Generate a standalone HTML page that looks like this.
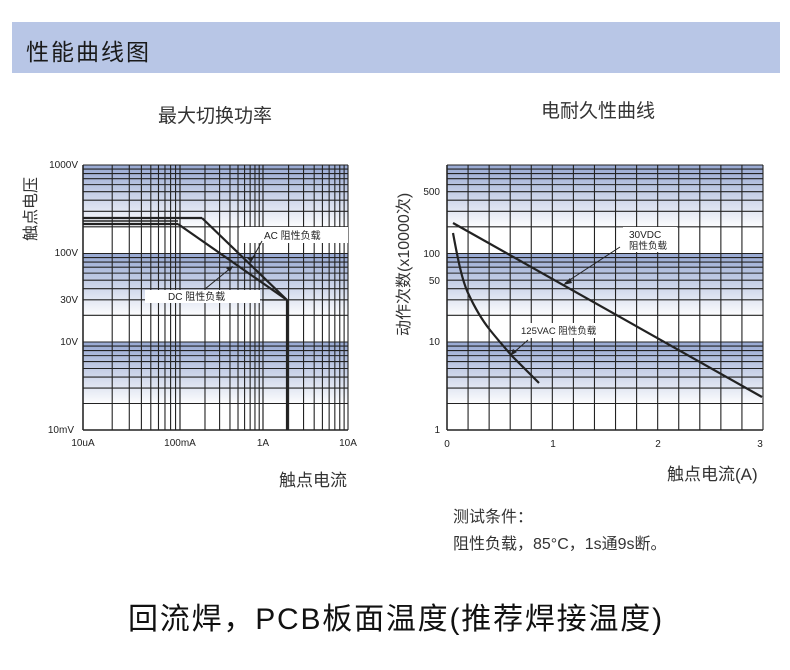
<!DOCTYPE html>
<html><head><meta charset="utf-8">
<style>
html,body{margin:0;padding:0;background:#fff;width:790px;height:670px;overflow:hidden}
body{position:relative;font-family:"Liberation Sans","Noto Sans CJK SC",sans-serif;color:#222}
.t{position:absolute;white-space:nowrap}
</style></head><body>
<div style="position:absolute;left:12px;top:22px;width:768px;height:51px;background:#b8c6e6"></div>
<div class="t" style="left:26px;top:33px;font-size:23px;letter-spacing:2px;color:#1a1a1a">性能曲线图</div>
<div class="t" style="left:158px;top:101px;font-size:19px;color:#333">最大切换功率</div>
<div class="t" style="left:541px;top:96px;font-size:19px;color:#333">电耐久性曲线</div>
<div class="t" style="left:17px;top:241px;font-size:16px;transform:rotate(-90deg);transform-origin:0 0;color:#333">触点电压</div>
<div class="t" style="left:390px;top:336px;font-size:16px;transform:rotate(-90deg);transform-origin:0 0;color:#333">动作次数(x10000次)</div>
<div class="t" style="left:279px;top:466px;font-size:17px;color:#333">触点电流</div>
<div class="t" style="left:667px;top:460px;font-size:17px;color:#333">触点电流(A)</div>
<div class="t" style="left:453px;top:503px;font-size:16px;color:#333">测试条件：</div>
<div class="t" style="left:453px;top:530px;font-size:16px;color:#333">阻性负载，85°C，1s通9s断。</div>
<div class="t" style="left:128px;top:594px;font-size:30px;letter-spacing:1.8px;color:#111">回流焊，PCB板面温度(推荐焊接温度)</div>
<svg id="s" width="790" height="670" style="position:absolute;left:0;top:0" xmlns="http://www.w3.org/2000/svg">
<defs><linearGradient id="g" x1="0" y1="0" x2="0" y2="1"><stop offset="0" stop-color="#97a8d2"/><stop offset="1" stop-color="#ffffff"/></linearGradient></defs>
</svg>
<script>
var s=document.getElementById('s'),h='';
function L(x1,y1,x2,y2,w,c){h+='<line x1="'+x1+'" y1="'+y1+'" x2="'+x2+'" y2="'+y2+'" stroke="'+(c||'#222')+'" stroke-width="'+(w||1)+'"/>';}
function T(x,y,t,sz,a){h+='<text x="'+x+'" y="'+y+'" font-size="'+(sz||10)+'" text-anchor="'+(a||'start')+'" font-family="Liberation Sans,Noto Sans CJK SC,sans-serif" fill="#222">'+t+'</text>';}
function hgrid(x0,x1){var tops=[165,253.5,342];var bot=[253.5,342,430];
 for(var d=0;d<3;d++){var t=tops[d],H=bot[d]-t;
  h+='<rect x="'+x0+'" y="'+t+'" width="'+(x1-x0)+'" height="'+(H*0.72)+'" fill="url(#g)"/>';
  for(var k=2;k<=10;k++){var y=t+H*(1-Math.log10(k));L(x0,y,x1,y,1.1);} }
 L(x0,430,x1,430,1.5);}
hgrid(83,348);
var dx=[[83,180],[180,263],[263,348]];
for(var d=0;d<3;d++){var a=dx[d][0],b=dx[d][1];for(var k=1;k<=10;k++){var x=a+(b-a)*Math.log10(k);L(x,165,x,430,1.1);}}
L(83,165,83,430,1.5);
h+='<rect x="240" y="227" width="108" height="16" fill="#fff"/>';
h+='<rect x="145" y="290" width="115" height="13" fill="#fff"/>';
L(83,218,202,218,2.2);L(202,218,287,300,2.2);
L(83,221,178,221,1.5);
L(83,224,178,224,2.2);L(178,224,287,300,2.2);
L(287,300,287,430,2.2);L(262,300,287,300,1.2);
T(264,239,'AC 阻性负载',10);T(168,300,'DC 阻性负载',10);
L(262,241,250,263,1);h+='<polygon points="251,262,255,256,247,258" fill="#222"/>';
L(205,289,232,267,1);h+='<polygon points="233,266,226,268,230,272" fill="#222"/>';
T(78,168,'1000V',10,'end');T(78,256,'100V',10,'end');T(78,303,'30V',10,'end');T(78,345,'10V',10,'end');T(74,433,'10mV',10,'end');
T(83,446,'10uA',10,'middle');T(180,446,'100mA',10,'middle');T(263,446,'1A',10,'middle');T(348,446,'10A',10,'middle');
hgrid(447,763);
for(var i=0;i<=15;i++){var x=447+i*316/15;L(x,165,x,430,1.1);}
L(447,165,447,430,1.5);
h+='<rect x="623" y="227" width="54" height="25" fill="#fff"/>';
h+='<rect x="518" y="323" width="95" height="15" fill="#fff"/>';
L(453,223,762,397,2.2);
h+='<path d="M453,233 C458,260 462,280 468,293 S482,320 490,330 S505,348 512,356 L539,383" fill="none" stroke="#222" stroke-width="2.2"/>';
T(629,238,'30VDC',10);T(629,249,'阻性负载',9.5);
T(521,334,'125VAC 阻性负载',9.5);
L(620,247,565,283,1);h+='<polygon points="563,285,570,278,572,283" fill="#222"/>';
L(528,340,512,354,1);h+='<polygon points="510,356,513,349,517,352" fill="#222"/>';
T(440,195,'500',10,'end');T(440,257,'100',10,'end');T(440,284,'50',10,'end');T(440,345,'10',10,'end');T(440,433,'1',10,'end');
T(447,447,'0',10,'middle');T(553,447,'1',10,'middle');T(658,447,'2',10,'middle');T(760,447,'3',10,'middle');
s.innerHTML+=h;
</script>
</body></html>
